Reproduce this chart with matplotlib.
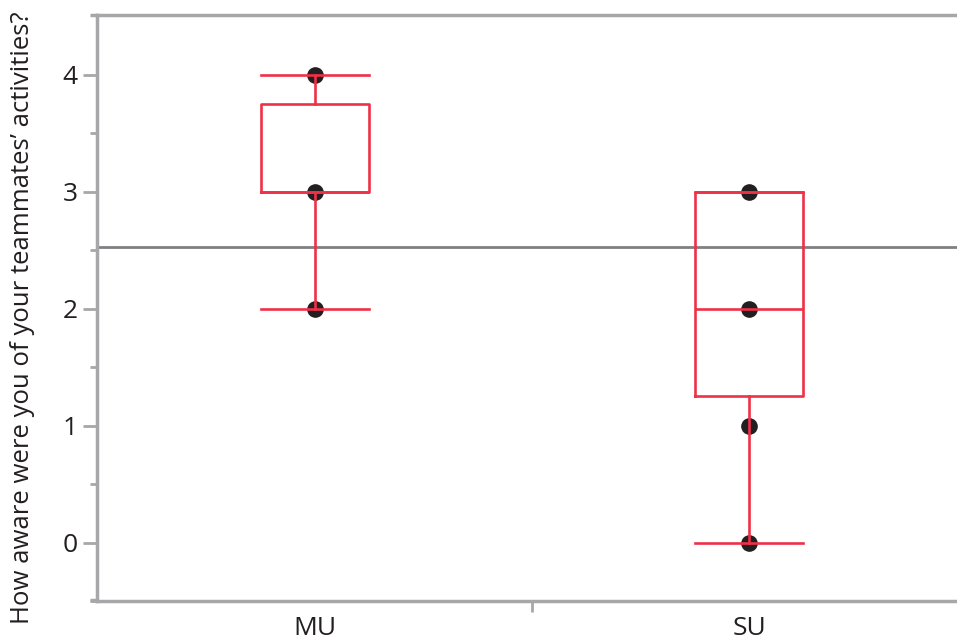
import matplotlib
matplotlib.use("Agg")
import matplotlib.pyplot as plt
from matplotlib.lines import Line2D

plt.rcParams['font.family'] = ['Open Sans', 'DejaVu Sans']

# Data
groups = ["MU", "SU"]
q1 = [3.0, 1.25]
median = [3.0, 2.0]
q3 = [3.75, 3.0]
whisker_low = [2.0, 0.0]
whisker_high = [4.0, 3.0]
points_mu = [2, 3, 4]
points_su = [0, 1, 2, 3]
grand_mean = 2.53
y_label = "How aware were you of your teammates’ activities?"

RED = "#ee3048"
GRAY = "#a7a7aa"
TXT = "#231f20"

fig = plt.figure(figsize=(9.57, 6.42), dpi=100)
ax = fig.add_axes([97/957, 1-601/642, 1-97/957, (601-15)/642])

positions = list(range(len(groups)))
for pos, pts in zip(positions, [points_mu, points_su]):
    ax.plot([pos]*len(pts), pts, 'o', color="#231f20", markersize=12, zorder=2,
            markeredgewidth=0)

stats = []
for i, g in enumerate(groups):
    stats.append(dict(label=g, q1=q1[i], med=median[i], q3=q3[i],
                      whislo=whisker_low[i], whishi=whisker_high[i], fliers=[]))
lp = dict(color=RED, linewidth=1.9)
ax.bxp(stats, positions=positions, widths=0.25, capwidths=0.25,
       boxprops=lp, whiskerprops=lp, capprops=lp, medianprops=lp,
       showfliers=False, manage_ticks=False, zorder=3)

ax.axhline(grand_mean, color="#808083", linewidth=2.0, zorder=1)

ax.set_xlim(-0.502, 1.479)
ax.set_ylim(-0.49, 4.51)

ax.set_yticks([0, 1, 2, 3, 4])
ax.set_yticks([-0.5, 0.5, 1.5, 2.5, 3.5], minor=True)
ax.set_xticks(positions)
ax.set_xticklabels(groups)
ax.set_xticks([0.5], minor=True)

ax.tick_params(axis='y', which='major', length=10, width=2, color=GRAY,
               labelsize=19, labelcolor=TXT, pad=4)
ax.tick_params(axis='y', which='minor', length=5, width=2, color=GRAY)
ax.tick_params(axis='x', which='major', length=0, labelsize=19, labelcolor=TXT, pad=11)
ax.tick_params(axis='x', which='minor', length=8, width=2, color=GRAY)

for s in ['left', 'bottom', 'top']:
    ax.spines[s].set_color(GRAY)
    ax.spines[s].set_linewidth(2.5)
ax.spines['right'].set_visible(False)

# small overhang of the frame lines beyond the left spine
for yv in [4.51, -0.49]:
    ax.add_line(Line2D([-0.518, -0.502], [yv, yv], color=GRAY, linewidth=2.5,
                       clip_on=False, solid_capstyle='butt'))

fig.text(23/957, 1-318/642, y_label, rotation=90, ha='center', va='center',
         fontsize=18.5, color=TXT)

fig.savefig("out.png", dpi=100)
